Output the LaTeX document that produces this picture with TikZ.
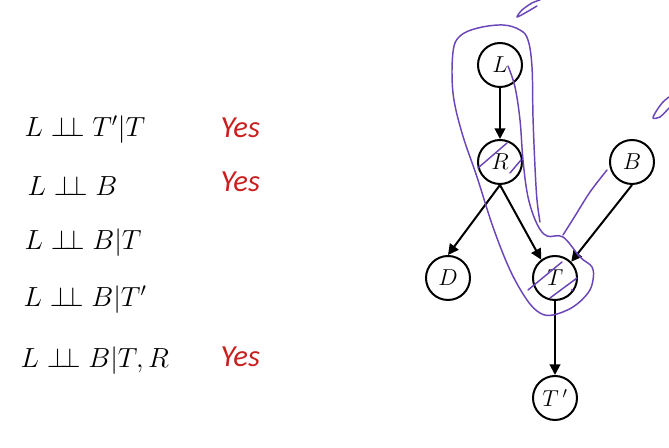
\documentclass[tikz,border=0pt]{standalone}
\usepackage{fontspec}
\usepackage{tikz}
\usetikzlibrary{arrows.meta}
\newfontfamily\yesfont{Carlito}
\definecolor{yesred}{HTML}{C8201E}
\definecolor{penpurple}{HTML}{6A45B8}
\newcommand{\indep}{\perp\!\!\perp}

\begin{document}
\begin{tikzpicture}[x=0.75pt,y=-0.75pt,font=\fontsize{20.74}{25}\selectfont,
  var/.style={circle,draw,line width=1.5pt,minimum size=33pt,inner sep=0pt,font=\fontsize{17.28}{21}\selectfont},
  edge/.style={line width=1.5pt,-{Triangle[length=8pt,width=8pt]}},
  pen/.style={penpurple,line width=1.1pt,line cap=round,line join=round},
  answer/.style={anchor=west,text=yesred,font=\fontsize{23}{27}\selectfont\yesfont\itshape}]
\useasboundingbox (0,0) rectangle (669,448);
% statements
\node[anchor=west] (s1) at (20,130) {$L\indep T'|T$};
\node[anchor=west] (s2) at (23,186) {$L\indep B$};
\node[anchor=west] (s3) at (20,243) {$L\indep B|T$};
\node[anchor=west] (s4) at (19,300) {$L\indep B|T'$};
\node[anchor=west] (s5) at (16,361) {$L\indep B|T,R$};
\node[answer] (a1) at (216,128) {Yes};
\node[answer] (a2) at (216,182) {Yes};
\node[answer] (a5) at (216,357) {Yes};
% network
\node[var] (L) at (500,65) {$L$};
\node[var] (R) at (500,162) {$R$};
\node[var] (B) at (632,162) {$B$};
\node[var] (D) at (448,278) {$D$};
\node[var] (T) at (555,278) {$T$};
\node[var] (Tp) at (555,398) {$T\,'$};
\draw[edge] (L) -- (R);
\draw[edge] (R.south) -- (D.north);
\draw[edge] (R.south) -- (T.127);
\draw[edge] (B.south) -- (T.45);
\draw[edge] (T) -- (Tp);
% pen marks
\draw[pen] plot[smooth,tension=0.6] coordinates {(508,66) (515,87) (520,120) (523,160) (528,197) (537,224) (547,236) (563,237)
  (580,257) (592,267) (593,280) (588,293) (573,307) (553,315) (540,313) (527,300) (510,270) (493,227) (477,177)
  (462,133) (453,93) (453,52) (460,36) (478,28) (503,25) (520,30) (528,40) (532,67) (533,117) (535,167) (537,200) (540,222)};
\draw[pen] plot[smooth] coordinates {(607,170) (590,192) (575,216) (563,235)};
\draw[pen] (478,168) -- (507,143);
\draw[pen] (510,173) -- (521,160);
\draw[pen] (528,290) -- (562,262);
\draw[pen] (550,298) -- (577,278);
\fill[penpurple] (572,290) circle (1pt);
\draw[pen] plot[smooth] coordinates {(540,0) (532,3) (522,10) (517,17) (525,13) (537,6)};
\draw[pen] plot[smooth] coordinates {(669,97) (663,102) (657,110) (653,118) (660,117) (669,108)};
\end{tikzpicture}
\end{document}
